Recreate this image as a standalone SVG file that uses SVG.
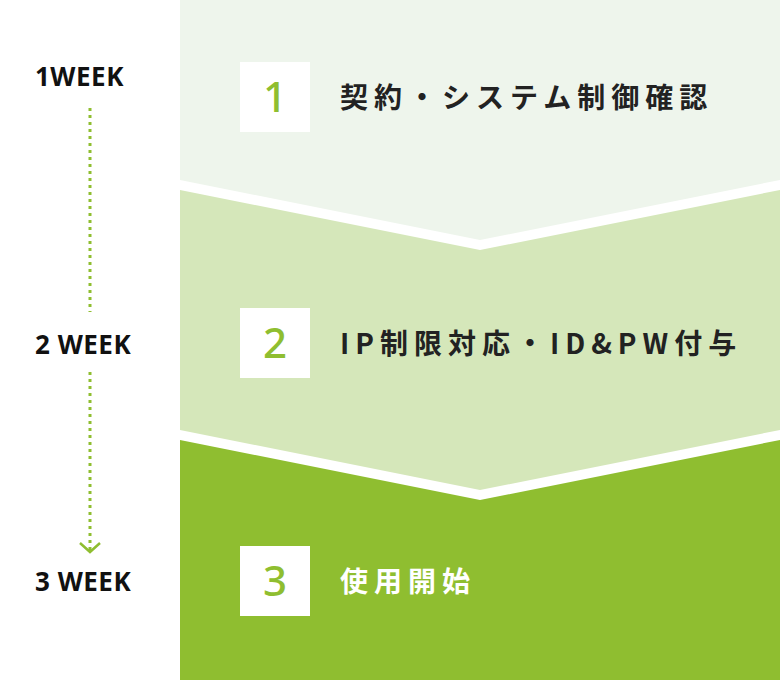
<svg xmlns="http://www.w3.org/2000/svg" width="780" height="680" viewBox="0 0 780 680">
<style>
.wk{font-family:"Noto Sans","Liberation Sans",sans-serif;font-weight:700;font-size:26px;fill:#111;letter-spacing:0.5px}
.num{font-family:"Noto Sans","Liberation Sans",sans-serif;font-weight:500;font-size:42px;fill:#8fbe30;text-anchor:middle}
.lbl{font-family:"Noto Sans CJK JP",sans-serif;font-weight:700;font-size:28px;fill:#222;letter-spacing:6px}
.dot{stroke:#8fbe30;stroke-width:3;stroke-dasharray:3 4;fill:none}
</style>
<rect width="780" height="680" fill="#fff"/>
<g id="band3"><polygon points="180,440 480,500 780,440 780,680 180,680" fill="#8fbe30"/>
<rect x="240" y="546" width="70" height="70" fill="#fff"/><text class="num" x="275" y="596">3</text>
<text class="lbl" x="340" y="592" style="fill:#fff">使用開始</text></g>
<g id="band2"><polygon points="180,190 480,250 780,190 780,430 480,490 180,430" fill="#d5e7ba"/>
<rect x="240" y="308" width="70" height="70" fill="#fff"/><text class="num" x="275" y="358">2</text>
<text class="lbl" x="340" y="354">IP制限対応・ID&amp;PW付与</text></g>
<g id="band1"><polygon points="180,0 780,0 780,180 480,240 180,180" fill="#eef5ec"/>
<rect x="240" y="62" width="70" height="70" fill="#fff"/><text class="num" x="275" y="112">1</text>
<text class="lbl" x="340" y="108">契約・システム制御確認</text></g>
<g id="weeks">
<text class="wk" x="35" y="86">1WEEK</text>
<text class="wk" x="35" y="354">2 WEEK</text>
<text class="wk" x="35" y="591">3 WEEK</text>
</g>
<g id="connectors">
<line class="dot" x1="90" y1="108" x2="90" y2="312"/>
<line class="dot" x1="90" y1="372" x2="90" y2="550"/>
<polyline points="80,543 90,552 100,543" fill="none" stroke="#8fbe30" stroke-width="2.5"/>
</g>
</svg>
